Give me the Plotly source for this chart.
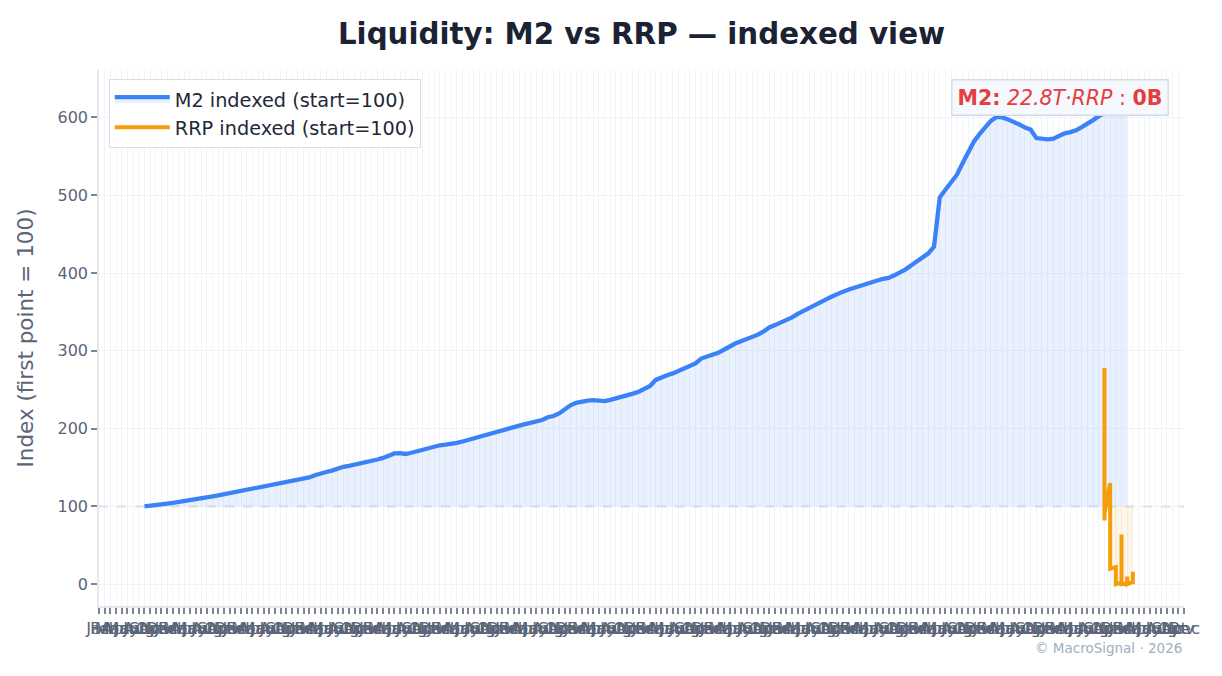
import pandas as pd
import plotly.graph_objects as go

# ---------------- data ----------------
MONTHS = pd.date_range("2010-01-01", periods=192, freq="MS")
CATEGORIES = list(MONTHS.strftime("%Y-%m"))
TICK_LABELS = list(MONTHS.strftime("%b"))

M2_DATES = CATEGORIES[8:182]
M2_INDEX = [
    100.0, 100.6, 101.6, 102.6, 103.6, 104.6, 105.6, 106.7, 107.7, 108.8,
    110.1, 111.4, 112.8, 114.2, 115.6, 117.1, 118.8, 120.6, 122.3, 123.6,
    124.9, 126.2, 127.5, 128.8, 130.0, 131.3, 132.7, 134.0, 135.3, 137.3,
    140.1, 142.6, 144.3, 146.1, 149.0, 150.9, 152.2, 153.6, 155.2, 156.7,
    158.3, 160.3, 162.4, 164.9, 168.1, 168.6, 167.4, 169.0, 171.2, 173.2,
    175.0, 176.8, 178.6, 179.3, 180.1, 181.6, 183.5, 185.4, 187.3, 189.1,
    191.0, 193.1, 195.3, 197.5, 199.6, 201.7, 203.8, 205.8, 207.5, 209.0,
    211.1, 214.6, 216.2, 219.5, 225.1, 230.0, 233.2, 235.1, 236.1, 236.6,
    236.4, 235.3, 237.0, 238.8, 240.6, 242.8, 245.0, 247.5, 251.2, 254.9,
    262.6, 266.4, 268.7, 271.0, 274.1, 277.4, 280.7, 283.9, 290.1, 292.5,
    295.0, 297.5, 301.4, 306.2, 309.4, 312.2, 315.0, 317.9, 320.8, 324.9,
    330.0, 333.1, 336.0, 338.7, 343.0, 347.6, 351.6, 355.3, 358.9, 362.5,
    366.2, 369.9, 373.5, 376.1, 378.8, 381.4, 383.6, 385.8, 388.1, 390.4,
    392.4, 393.7, 397.1, 400.7, 404.8, 410.0, 415.3, 420.4, 425.3, 434.0,
    497.0, 507.1, 516.5, 526.1, 540.8, 556.4, 568.9, 578.6, 587.2, 595.5,
    600.7, 600.0, 597.5, 594.6, 591.0, 587.0, 584.5, 573.5, 572.6, 571.9,
    572.8, 576.6, 579.6, 581.2, 583.5, 587.5, 591.5, 596.6, 601.7, 606.1,
    609.7, 613.4, 617.0, 620.6,
]

# RRP: several observations per month (same category -> vertical strokes)
RRP_DATES = (
    ["2024-10"] * 6 + ["2024-11"] * 6 + ["2024-12"] * 5
    + ["2025-01"] * 4 + ["2025-02"] * 4 + ["2025-03"] * 4
)
RRP_INDEX = [
    100, 190, 82, 140, 278, 90,
    130, 95, 48, 30, 35, 20,
    22, 10, 4, 1, 0,
    2, 64, 3, 0,
    1, 10, 4, 0,
    3, 16, 2, 0,
]
RRP_FILL_FROM = 6  # start of the shaded below-start region

BASE = 100
ANNOT = "<b>M2:</b> <i>22.8T·RRP</i> : <b>0B</b>"

# ---------------- styles ----------------
BLUE = "#3b82f6"
ORANGE = "#f59e0b"
TEXT = "#5a6578"
FONT = "DejaVu Sans"

fig = go.Figure()

# dashed reference line at the starting level (spans every category)
fig.add_trace(go.Scatter(
    x=CATEGORIES, y=[BASE] * len(CATEGORIES), mode="lines",
    line=dict(color="#dbe2ec", width=2, dash="dash"),
    hoverinfo="skip", showlegend=False))

# M2 baseline (invisible) + M2 line with fill to baseline
fig.add_trace(go.Scatter(
    x=M2_DATES, y=[BASE] * len(M2_DATES), mode="lines",
    line=dict(width=0, color="rgba(0,0,0,0)"),
    hoverinfo="skip", showlegend=False))
fig.add_trace(go.Scatter(
    x=M2_DATES, y=M2_INDEX, mode="lines", name="M2 indexed (start=100)",
    line=dict(color=BLUE, width=4.3), fill="tonexty",
    fillcolor="rgba(59,130,246,0.11)"))

# RRP shaded region below start level
fx = RRP_DATES[RRP_FILL_FROM:] + [RRP_DATES[-1], RRP_DATES[RRP_FILL_FROM]]
fy = RRP_INDEX[RRP_FILL_FROM:] + [BASE, BASE]
fig.add_trace(go.Scatter(
    x=fx, y=fy, mode="lines", line=dict(width=0, color="rgba(0,0,0,0)"),
    fill="toself", fillcolor="rgba(245,158,11,0.10)",
    hoverinfo="skip", showlegend=False))

fig.add_trace(go.Scatter(
    x=RRP_DATES, y=RRP_INDEX, mode="lines", name="RRP indexed (start=100)",
    line=dict(color=ORANGE, width=4)))

fig.update_layout(
    width=1222, height=676,
    margin=dict(l=99, r=38, t=70, b=70),
    paper_bgcolor="white", plot_bgcolor="white",
    font=dict(family=FONT, color=TEXT, size=16),
    title=dict(text="<b>Liquidity: M2 vs RRP — indexed view</b>",
               font=dict(size=29.3, color="#1a2233", family=FONT),
               x=0.5, xref="paper", xanchor="center",
               y=1 - 34 / 676, yref="container", yanchor="middle"),
    legend=dict(x=0.009, y=0.983, xanchor="left", yanchor="top",
                traceorder="normal", itemwidth=55,
                bgcolor="white", bordercolor="#d9e0ea", borderwidth=1,
                font=dict(size=19.3, color="#1f2937", family=FONT),
                tracegroupgap=2),
    showlegend=True,
)

fig.update_xaxes(
    type="category", categoryorder="array", categoryarray=CATEGORIES,
    tickmode="array", tickvals=CATEGORIES, ticktext=TICK_LABELS,
    tickangle=0, range=[0, len(CATEGORIES) - 1],
    showgrid=True, gridcolor="#f3f4f7", gridwidth=1,
    showline=True, linecolor="#e2e8f0", linewidth=1.5,
    ticks="outside", ticklen=6, tickwidth=1.5, tickcolor="#7d8593",
    tickfont=dict(size=16.5, color=TEXT), zeroline=False,
)
fig.update_yaxes(
    range=[-28, 661], tickvals=[0, 100, 200, 300, 400, 500, 600],
    showgrid=True, gridcolor="#f1f3f7", gridwidth=1,
    showline=True, linecolor="#e2e8f0", linewidth=1.5,
    ticks="outside", ticklen=6, tickwidth=1.5, tickcolor="#7d8593",
    tickfont=dict(size=16, color=TEXT), zeroline=False,
    title=dict(text="Index (first point = 100)", font=dict(size=21.5, color=TEXT),
               standoff=18),
)

fig.add_annotation(
    x=0.986, y=0.983, xref="paper", yref="paper", xanchor="right", yanchor="top",
    text=ANNOT, showarrow=False,
    font=dict(size=20.5, color="#e53e3e", family=FONT),
    bgcolor="#f5f8fc", bordercolor="#d3dde9", borderwidth=1.5, borderpad=5,
)
fig.add_annotation(
    x=1, y=-0.078, xref="paper", yref="paper", xanchor="right", yanchor="middle",
    text="© MacroSignal · 2026", showarrow=False,
    font=dict(size=13.5, color="#a0aec0", family=FONT),
)

fig.write_html("out.html")
